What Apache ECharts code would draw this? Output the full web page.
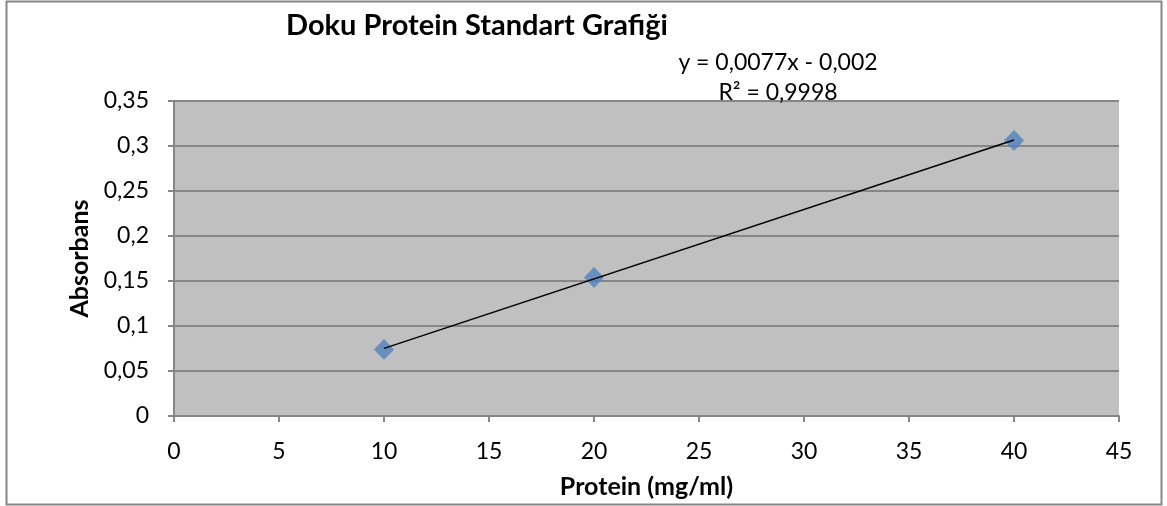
<!DOCTYPE html>
<html>
<head>
<meta charset="utf-8">
<script src="https://cdn.jsdelivr.net/npm/echarts@6/dist/echarts.min.js"></script>
<style>
  html, body { margin: 0; padding: 0; background: #fff; }
  #chart { width: 1167px; height: 506px; }
</style>
</head>
<body>
<div id="chart"></div>
<script>
// values
const protein = [10, 20, 40]
const absorbans = [0.074, 0.154, 0.306]
const equationText = 'y = 0,0077x - 0,002'
const r2Text = 'R² = 0,9998'

const fmt = v => String(v).replace('.', ',')

// least squares trendline over the data range
function fit (xs, ys) {
  const n = xs.length
  const mx = xs.reduce((a, b) => a + b, 0) / n
  const my = ys.reduce((a, b) => a + b, 0) / n
  let sxy = 0
  let sxx = 0
  xs.forEach((x, i) => {
    sxy += (x - mx) * (ys[i] - my)
    sxx += (x - mx) * (x - mx)
  })
  const k = sxy / sxx
  return { k, b: my - k * mx }
}
const line = fit(protein, absorbans)
const xMin = Math.min(...protein)
const xMax = Math.max(...protein)
const trend = [[xMin, line.k * xMin + line.b], [xMax, line.k * xMax + line.b]]

const font = 'Lato, "Open Sans", sans-serif'
const chart = echarts.init(document.getElementById('chart'))
chart.setOption({
  animation: false,
  textStyle: { fontFamily: font },
  graphic: [{
    type: 'rect',
    shape: { x: 6.5, y: 1.5, width: 1155, height: 503 },
    style: { fill: 'none', stroke: '#868686', lineWidth: 2 }
  }],
  title: [{
    text: 'Doku Protein Standart Grafiği',
    left: 472,
    top: 6,
    textAlign: 'center',
    textStyle: { fontFamily: font, fontSize: 29, fontWeight: 'bold', color: '#000' }
  }, {
    text: equationText + '\n' + r2Text,
    left: 773,
    top: 43,
    textAlign: 'center',
    textStyle: { fontFamily: font, fontSize: 23, fontWeight: 'normal', color: '#000', lineHeight: 30, align: 'center' }
  }],
  grid: {
    left: 174,
    right: 48,
    top: 101,
    bottom: 90,
    outerBoundsMode: 'none',
    containLabel: false,
    show: true,
    backgroundColor: '#c0c0c0',
    borderWidth: 0
  },
  xAxis: {
    type: 'value',
    min: 0,
    max: 45,
    interval: 5,
    name: 'Protein (mg/ml)',
    nameLocation: 'middle',
    nameGap: 58,
    nameTextStyle: { fontFamily: font, fontSize: 25, fontWeight: 'bold', color: '#000' },
    axisLine: { show: true, lineStyle: { color: '#868686', width: 2 } },
    axisTick: { show: true, length: 6, lineStyle: { color: '#868686', width: 2 } },
    axisLabel: { color: '#000', fontSize: 23, margin: 24, fontFamily: font },
    splitLine: { show: false }
  },
  yAxis: {
    type: 'value',
    min: 0,
    max: 0.35,
    interval: 0.05,
    name: 'Absorbans',
    nameLocation: 'middle',
    nameGap: 82,
    nameTextStyle: { fontFamily: font, fontSize: 25, fontWeight: 'bold', color: '#000' },
    axisLine: { show: true, lineStyle: { color: '#868686', width: 2 } },
    axisTick: { show: true, length: 6, lineStyle: { color: '#868686', width: 2 } },
    axisLabel: { color: '#000', fontSize: 23, margin: 25, fontFamily: font, formatter: v => fmt(+v.toFixed(2)) },
    splitLine: { show: true, lineStyle: { color: '#868686', width: 2 } }
  },
  series: [{
    // trendline
    type: 'line',
    data: trend,
    symbol: 'none',
    lineStyle: { color: '#000', width: 1.5 },
    z: 3
  }, {
    type: 'scatter',
    data: protein.map((x, i) => [x, absorbans[i]]),
    symbol: 'diamond',
    symbolSize: [20, 21],
    itemStyle: { color: '#4f81bd' },
    z: 2
  }]
})
</script>
</body>
</html>
